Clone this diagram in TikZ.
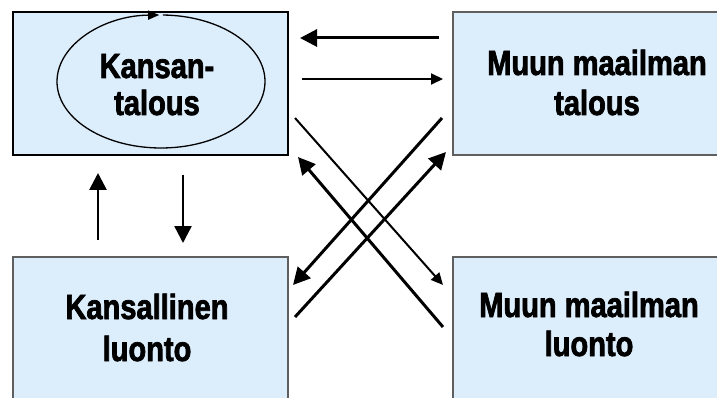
\documentclass[tikz,border=0pt]{standalone}
\usepackage{fontspec}
\usetikzlibrary{arrows.meta}
\newfontfamily\labelfont{Liberation Sans}[FakeStretch=0.83, BoldFeatures={FakeBold=2}]
\newcommand\lblfont[1]{\labelfont\bfseries\fontsize{35}{#1}\selectfont}
\definecolor{boxblue}{RGB}{220,237,251}
\definecolor{boxedge}{RGB}{95,95,95}
\tikzset{
  panel/.style={draw=boxedge, line width=1.2pt, fill=boxblue},
  mainpanel/.style={draw=black, line width=2pt, fill=boxblue},
  boxtext/.style={font=\lblfont{#1}, align=center, inner sep=0pt, anchor=base},
  heavy/.style={line width=3pt, -{Triangle[length=17pt,width=17pt]}},
  light/.style={line width=2pt, -{Triangle[length=12pt,width=11pt]}},
  cycle/.style={line width=1.3pt, -{Triangle[length=11pt,width=9pt]}}
}
\begin{document}
\begin{tikzpicture}[x=1pt,y=-1pt]
  \useasboundingbox (0,0) rectangle (717,398);
  \clip (0,0) rectangle (717,398);

  % the four sectors
  \path[mainpanel] (13,12) rectangle (288,155);
  \path[panel] (453,12) rectangle (741,155);
  \path[panel] (13,257) rectangle (288,420);
  \path[panel] (453,257) rectangle (741,420);

  % circular flow inside the national economy
  \coordinate (ell) at (161,81.5);
  \draw[cycle] ([shift={(271:104 and 66.5)}]ell) arc[start angle=271, end angle=629, x radius=104, y radius=66.5];

  % labels (anchored at the baseline of the second line)
  \node[boxtext=37] (ktal) at (157,115) {Kansan-\\talous};
  \node[boxtext=40] (mtal) at (597,115) {Muun maailman\\talous};
  \node[boxtext=42] (kluo) at (147,361) {Kansallinen\\luonto};
  \node[boxtext=39] (mluo) at (589,356) {Muun maailman\\luonto};

  % end points of the flows
  \coordinate (h1s) at (439,38);  \coordinate (h1e) at (300,38);
  \coordinate (h2s) at (302,79);  \coordinate (h2e) at (443,79);
  \coordinate (v1s) at (98,240);  \coordinate (v1e) at (98,173);
  \coordinate (v2s) at (183,175); \coordinate (v2e) at (183,243);
  \coordinate (x1s) at (295,118); \coordinate (x1e) at (443,285);
  \coordinate (x2s) at (442,118); \coordinate (x2e) at (293,285);
  \coordinate (x3s) at (443,327); \coordinate (x3e) at (298,157);
  \coordinate (x4s) at (295,317); \coordinate (x4e) at (446,152);

  \draw[heavy] (h1s) -- (h1e);
  \draw[light] (h2s) -- (h2e);
  \draw[heavy, line width=2.8pt] (v1s) -- (v1e);
  \draw[heavy, line width=2.5pt] (v2s) -- (v2e);
  \draw[light] (x1s) -- (x1e);
  \draw[heavy] (x2s) -- (x2e);
  \draw[heavy] (x3s) -- (x3e);
  \draw[heavy] (x4s) -- (x4e);
\end{tikzpicture}
\end{document}
